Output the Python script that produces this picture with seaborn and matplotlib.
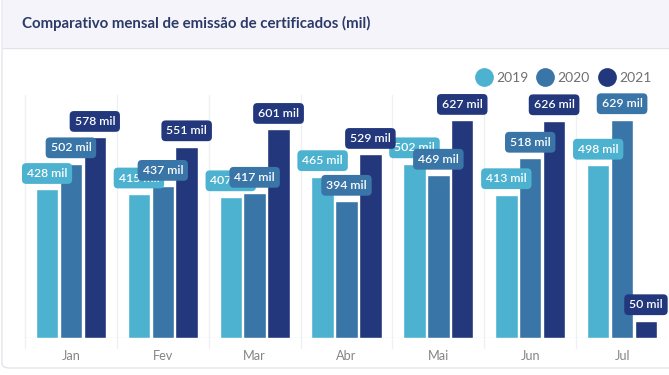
import matplotlib
matplotlib.use("Agg")
import matplotlib.pyplot as plt
import seaborn as sns
import pandas as pd
from matplotlib.lines import Line2D
from matplotlib.patches import Rectangle, FancyBboxPatch

months = ["Jan", "Fev", "Mar", "Abr", "Mai", "Jun", "Jul"]
years = ["2019", "2020", "2021"]
v2019 = [428, 415, 407, 465, 502, 413, 498]
v2020 = [502, 437, 417, 394, 469, 518, 629]
v2021 = [578, 551, 601, 529, 627, 626, 50]
colors = ["#4cb2d0", "#3a75a8", "#23387c"]
title = "Comparativo mensal de emissão de certificados (mil)"

df = pd.DataFrame({
    "mes": months * 3,
    "ano": [years[0]] * 7 + [years[1]] * 7 + [years[2]] * 7,
    "valor": v2019 + v2020 + v2021,
})

sns.set_theme(style="white")
plt.rcParams["font.family"] = ["Lato", "DejaVu Sans"]

W, H = 669, 375
fig = plt.figure(figsize=(W / 100, H / 100), dpi=100)
fig.patch.set_facecolor("white")

# card background + header band
card = FancyBboxPatch((2 / W, 1 - 368 / H), (W + 20) / W, 368 / H + 0.05,
                      boxstyle="round,pad=0,rounding_size=0.012",
                      transform=fig.transFigure, facecolor="white",
                      edgecolor="#e4e4ec", linewidth=1.0, zorder=-2)
fig.patches.append(card)
band = Rectangle((2.5 / W, 1 - 48 / H), 1, 48 / H, transform=fig.transFigure,
                 facecolor="#f4f4fa", edgecolor="none", zorder=-1)
fig.patches.append(band)
fig.add_artist(Line2D([2.5 / W, 1], [1 - 48 / H, 1 - 48 / H], transform=fig.transFigure,
                      color="#e2e2ea", linewidth=1.0, zorder=-1))
fig.text(22 / W, 1 - 23 / H, title, ha="left", va="center", fontsize=10.8,
         fontweight="bold", color="#2b3a67")

ax = fig.add_axes([25 / W, 1 - 338 / H, (668 - 25) / W, (338 - 95) / H])
ax.set_zorder(2)
ax.set_facecolor("none")
sns.barplot(data=df, x="mes", y="valor", hue="ano", palette=colors,
            width=0.78, gap=0.06, ax=ax, legend=False, saturation=1)

ax.set_ylim(0, 700)
ax.set_xlim(-0.5, len(months) - 0.5)
ax.set_ylabel("")
ax.set_xlabel("")
ax.set_yticks([])
for s in ax.spines.values():
    s.set_visible(False)
ax.axhline(0, color="#e2e7ee", linewidth=1.0, zorder=0.5)
for i in range(len(months)):
    ax.axvline(i - 0.5, ymin=-0.04, ymax=1, color="#eef0f3", linewidth=1.0,
               clip_on=False, zorder=0)
ax.tick_params(axis="x", length=0, pad=9, labelsize=9.2, labelcolor="#858585")

for ci, cont in enumerate(ax.containers):
    for bar in cont:
        h = bar.get_height()
        x = bar.get_x() + bar.get_width() / 2
        ax.annotate(f"{int(round(h))} mil", (x, h), xytext=(0, 7.5),
                    textcoords="offset points", ha="center", va="bottom",
                    fontsize=8.8, color="white", fontweight="semibold",
                    annotation_clip=False,
                    bbox=dict(boxstyle="round,pad=0.4,rounding_size=0.35",
                              facecolor=colors[ci], edgecolor="none"))

handles = [Line2D([], [], marker="o", linestyle="", markersize=13.5,
                  markerfacecolor=c, markeredgecolor="none") for c in colors]
fig.legend(handles, years, loc="center right", bbox_to_anchor=(664 / W, 1 - 78 / H),
           ncol=3, frameon=False, fontsize=10, handletextpad=0.25,
           columnspacing=0.55, handlelength=1.3, labelcolor="#707070")

fig.savefig("out.png", dpi=100, facecolor="white")
